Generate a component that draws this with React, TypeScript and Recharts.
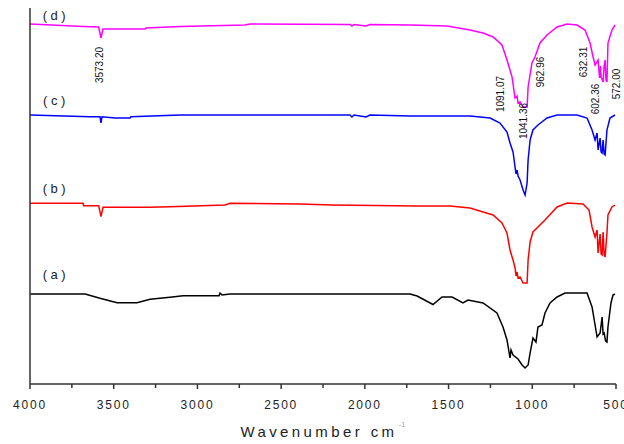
import React from "react"
import {
  LineChart,
  Line,
  XAxis,
  YAxis,
  ReferenceDot,
  Label,
} from "recharts"

// FTIR spectra, [wavenumber, offset transmittance]
const spectrumD: [number, number][] = [
  [4000, 360], [3683, 357.5], [3590, 357], [3576, 346], [3564, 355], [3313, 355],
  [3307, 356], [3104, 357.5], [2716, 359], [2686, 360], [2089, 359.5], [2077, 358],
  [2065, 359.5], [1993, 358], [1969, 359.5], [1730, 359], [1509, 358], [1372, 354],
  [1294, 351], [1234, 347], [1181, 339], [1151, 324], [1121, 307], [1103, 286],
  [1091, 288], [1085, 281], [1073, 282], [1055, 277], [1031, 277], [1025, 297],
  [1002, 321], [984, 327], [954, 341], [912, 349], [852, 357], [792, 360], [733, 359],
  [685, 354], [655, 341], [637, 327], [625, 319], [607, 324], [598, 306], [592, 318],
  [589, 307], [577, 302], [571, 318], [565, 324], [560, 304], [554, 302], [548, 341],
  [524, 354], [506, 359],
]

const spectrumC: [number, number][] = [
  [4000, 269], [3642, 267.3], [3582, 267.3], [3576, 261], [3570, 267.3], [3492, 266],
  [3403, 266], [3397, 267.3], [3104, 269], [2089, 269], [2077, 267], [2065, 269],
  [1993, 267], [1969, 269], [1730, 268], [1372, 268], [1252, 266], [1193, 261],
  [1151, 252], [1133, 241], [1115, 232], [1103, 217], [1097, 210], [1091, 214],
  [1085, 208], [1073, 204], [1055, 194], [1043, 189], [1031, 201], [1025, 224],
  [1013, 244], [996, 254], [966, 259], [912, 266], [852, 269], [733, 269], [673, 266],
  [643, 254], [625, 244], [613, 251], [607, 234], [595, 246], [589, 232], [583, 231],
  [577, 244], [571, 230], [565, 229], [554, 254], [536, 266], [506, 269],
]

const spectrumB: [number, number][] = [
  [4000, 180.7], [3683, 180.7], [3680, 178.3], [3590, 178.3], [3576, 167.3],
  [3564, 176.7], [3288, 176.7], [3164, 177.3], [2835, 179], [2805, 180.7],
  [2387, 180], [2196, 179], [1688, 178], [1491, 178], [1372, 176], [1294, 172],
  [1234, 169], [1181, 161], [1151, 151], [1133, 134], [1115, 124], [1103, 116],
  [1097, 108], [1091, 112], [1085, 106], [1073, 107], [1055, 101], [1031, 101],
  [1025, 124], [1013, 142], [996, 152], [966, 157], [924, 164], [852, 177], [792, 181],
  [697, 180], [661, 174], [643, 157], [625, 147], [613, 154], [607, 131], [595, 150],
  [589, 130], [583, 129], [577, 152], [571, 130], [565, 127], [554, 151], [548, 169],
  [524, 177], [506, 179],
]

const spectrumA: [number, number][] = [
  [4000, 90], [3671, 90], [3582, 85.7], [3480, 81.3], [3361, 81.3], [3283, 84.7],
  [3164, 86.7], [3086, 88.3], [2871, 88.3], [2865, 91], [2853, 89], [2805, 90],
  [1730, 90], [1688, 88], [1593, 79.5], [1539, 87], [1479, 87], [1414, 81], [1384, 84],
  [1294, 81], [1211, 71], [1175, 57], [1151, 44], [1133, 26], [1127, 34], [1115, 29],
  [1085, 25], [1061, 19], [1043, 16], [1025, 19], [1013, 31], [996, 46], [978, 42],
  [966, 57], [942, 59], [924, 71], [894, 81], [852, 87], [804, 91], [673, 91],
  [643, 77], [613, 47], [595, 51], [583, 67], [577, 50], [571, 51], [562, 43],
  [554, 42], [548, 57], [530, 81], [518, 89], [506, 90],
]

const seriesNames = ["(a)", "(b)", "(c)", "(d)"]
const seriesColors = ["#000000", "#ff0000", "#0000ff", "#ff00ff"]
const seriesLabelWn = 3845
const seriesLabelY = [110, 196, 284, 369]

const peakLabels = ["3573.20", "1091.07", "1041.36", "962.96", "632.31", "602.36", "572.00"]
const peakLabelWn = [3582, 1187, 1052, 948, 697, 625, 500]
const peakLabelY = [319, 290, 263, 312, 322, 285, 300]

const xTicks = [4000, 3750, 3500, 3250, 3000, 2750, 2500, 2250, 2000, 1750, 1500, 1250, 1000, 750, 500]

const FONT = "'Liberation Sans', Arial, sans-serif"

const toRows = (pts: [number, number][]) => pts.map(([wn, v]) => ({ wn, v }))

const WnTick = (props: any) => {
  const { x, y, payload } = props
  const major = payload.value % 500 === 0
  return (
    <g>
      <line x1={x} x2={x} y1={y} y2={y + (major ? 5 : 4)} stroke="#333" strokeWidth={1.5} />
      {major && (
        <text
          x={x}
          y={y + 25}
          textAnchor="middle"
          fontFamily={FONT}
          fontSize={12}
          letterSpacing={1.8}
          fill="#222"
        >
          {payload.value}
        </text>
      )}
    </g>
  )
}

const AxisTitle = (props: any) => {
  const { viewBox } = props
  const cx = viewBox.x + viewBox.width / 2
  return (
    <text
      x={cx}
      y={viewBox.y + 53}
      textAnchor="middle"
      fontFamily={FONT}
      fontSize={15}
      letterSpacing={3.4}
      fill="#222"
    >
      Wavenumber cm
      <tspan dx={1} dy={-10} fontSize={8} letterSpacing={0} fill="#aaa">
        -1
      </tspan>
    </text>
  )
}

const spectra = [spectrumA, spectrumB, spectrumC, spectrumD]

export default function App() {
  return (
    <div style={{ position: "absolute", left: 0, top: 0, width: 624, height: 444, background: "#fff" }}>
      <LineChart width={624} height={444} margin={{ top: 8, right: 8, left: 0, bottom: 10 }}>
        <XAxis
          dataKey="wn"
          type="number"
          domain={[500, 4000]}
          reversed
          ticks={xTicks}
          interval={0}
          tickSize={0}
          tickMargin={0}
          tickLine={false}
          tick={WnTick}
          height={50}
          axisLine={{ stroke: "#333", strokeWidth: 1.5 }}
        >
          <Label content={AxisTitle} />
        </XAxis>
        <YAxis
          type="number"
          domain={[0, 376]}
          width={30}
          tick={false}
          tickLine={false}
          axisLine={{ stroke: "#333", strokeWidth: 1.5 }}
        />
        {spectra.map((pts, i) => (
          <Line
            key={seriesNames[i]}
            data={toRows(pts)}
            dataKey="v"
            type="linear"
            stroke={seriesColors[i]}
            strokeWidth={1.5}
            dot={false}
            isAnimationActive={false}
          />
        ))}
        {seriesNames.map((name, i) => (
          <ReferenceDot
            key={name}
            x={seriesLabelWn}
            y={seriesLabelY[i]}
            r={0}
            ifOverflow="visible"
            shape={(p: any) => (
              <text
                x={p.cx}
                y={p.cy}
                textAnchor="middle"
                dominantBaseline="central"
                fontFamily={FONT}
                fontSize={13}
                letterSpacing={3.5}
                fill="#222"
              >
                {name}
              </text>
            )}
          />
        ))}
        {peakLabels.map((txt, i) => (
          <ReferenceDot
            key={txt}
            x={peakLabelWn[i]}
            y={peakLabelY[i]}
            r={0}
            ifOverflow="visible"
            shape={(p: any) => (
              <text
                x={p.cx}
                y={p.cy}
                transform={`rotate(-90 ${p.cx} ${p.cy})`}
                textAnchor="middle"
                dominantBaseline="central"
                fontFamily={FONT}
                fontSize={10}
                fill="#111"
              >
                {txt}
              </text>
            )}
          />
        ))}
      </LineChart>
    </div>
  )
}
